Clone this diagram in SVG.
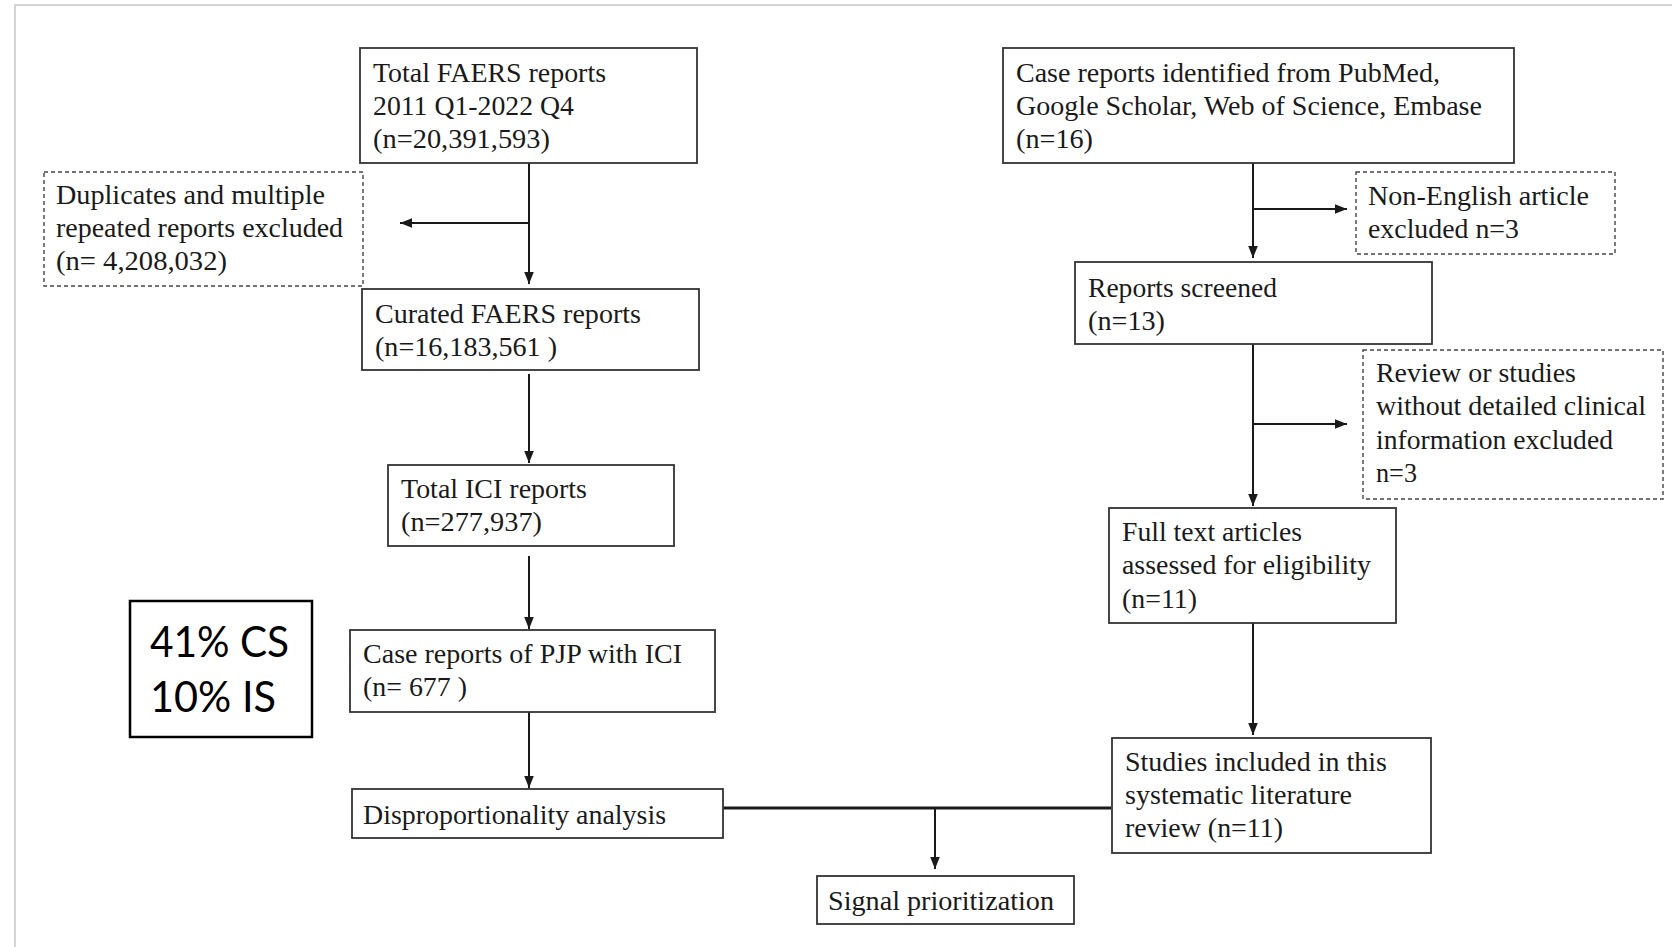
<svg xmlns="http://www.w3.org/2000/svg" width="1672" height="947" viewBox="0 0 1672 947">
<style>
.bx{fill:#fff;stroke:#333;stroke-width:1.8}
.dbx{fill:#fff;stroke:#444;stroke-width:1.4;stroke-dasharray:4 3}
.t{font-family:"Liberation Serif","Times New Roman",serif;font-size:27px;fill:#1a1a1a}
.c{stroke:#1a1a1a;stroke-width:2;fill:none}
.s{font-family:Lato,"Open Sans",sans-serif;font-size:43px;fill:#000}
</style>
<defs>
<marker id="ah" markerUnits="userSpaceOnUse" markerWidth="12" markerHeight="12" viewBox="0 0 10 10" refX="10" refY="5" orient="auto">
<path d="M0,1 L10,5 L0,9 Z" fill="#1a1a1a"/>
</marker>
</defs>
<rect x="0" y="0" width="1672" height="947" fill="#fff"/>
<rect x="15" y="5" width="1700" height="1000" fill="none" stroke="#d4d4d4" stroke-width="2"/>

<g id="connectors">
<line class="c" x1="529" y1="163" x2="529" y2="284" marker-end="url(#ah)"/>
<line class="c" x1="529" y1="223" x2="400" y2="223" marker-end="url(#ah)"/>
<line class="c" x1="529" y1="374" x2="529" y2="463" marker-end="url(#ah)"/>
<line class="c" x1="529" y1="556" x2="529" y2="629" marker-end="url(#ah)"/>
<line class="c" x1="529" y1="712" x2="529" y2="788" marker-end="url(#ah)"/>
<line x1="723" y1="808" x2="1111" y2="808" stroke="#1a1a1a" stroke-width="3"/>
<line class="c" x1="935" y1="808" x2="935" y2="869" marker-end="url(#ah)"/>
<line class="c" x1="1253" y1="163" x2="1253" y2="258" marker-end="url(#ah)"/>
<line class="c" x1="1253" y1="209" x2="1347" y2="209" marker-end="url(#ah)"/>
<line class="c" x1="1253" y1="344" x2="1253" y2="506" marker-end="url(#ah)"/>
<line class="c" x1="1253" y1="424" x2="1347" y2="424" marker-end="url(#ah)"/>
<line class="c" x1="1253" y1="623" x2="1253" y2="735" marker-end="url(#ah)"/>
</g>

<g id="n-faers-total">
<rect class="bx" x="360" y="48" width="337" height="115"/>
<text class="t" x="373" y="82" textLength="233" lengthAdjust="spacingAndGlyphs">Total FAERS reports</text>
<text class="t" x="373" y="115" textLength="201" lengthAdjust="spacingAndGlyphs">2011 Q1-2022 Q4</text>
<text class="t" x="373" y="148" textLength="177" lengthAdjust="spacingAndGlyphs">(n=20,391,593)</text>
</g>

<g id="n-duplicates">
<rect class="dbx" x="44" y="172" width="319" height="114"/>
<text class="t" x="56" y="204" textLength="269" lengthAdjust="spacingAndGlyphs">Duplicates and multiple</text>
<text class="t" x="56" y="237" textLength="287" lengthAdjust="spacingAndGlyphs">repeated reports excluded</text>
<text class="t" x="56" y="270" textLength="171" lengthAdjust="spacingAndGlyphs">(n= 4,208,032)</text>
</g>

<g id="n-curated">
<rect class="bx" x="362" y="289" width="337" height="81"/>
<text class="t" x="375" y="323" textLength="266" lengthAdjust="spacingAndGlyphs">Curated FAERS reports</text>
<text class="t" x="375" y="356" textLength="182" lengthAdjust="spacingAndGlyphs">(n=16,183,561 )</text>
</g>

<g id="n-ici">
<rect class="bx" x="388" y="465" width="286" height="81"/>
<text class="t" x="401" y="498" textLength="186" lengthAdjust="spacingAndGlyphs">Total ICI reports</text>
<text class="t" x="401" y="531" textLength="141" lengthAdjust="spacingAndGlyphs">(n=277,937)</text>
</g>

<g id="n-pjp">
<rect class="bx" x="350" y="630" width="365" height="82"/>
<text class="t" x="363" y="663" textLength="319" lengthAdjust="spacingAndGlyphs">Case reports of PJP with ICI</text>
<text class="t" x="363" y="696" textLength="104" lengthAdjust="spacingAndGlyphs">(n= 677 )</text>
</g>

<g id="n-disprop">
<rect class="bx" x="352" y="789" width="371" height="49"/>
<text class="t" x="363" y="824" textLength="303" lengthAdjust="spacingAndGlyphs">Disproportionality analysis</text>
</g>

<g id="n-signal">
<rect class="bx" x="817" y="876" width="257" height="48"/>
<text class="t" x="828" y="910" textLength="226" lengthAdjust="spacingAndGlyphs">Signal prioritization</text>
</g>

<g id="n-cs-is">
<rect x="130" y="601" width="182" height="136" fill="#fff" stroke="#000" stroke-width="2.5"/>
<text class="s" x="150" y="657" textLength="139" lengthAdjust="spacingAndGlyphs">41% CS</text>
<text class="s" x="150" y="712" textLength="126" lengthAdjust="spacingAndGlyphs">10% IS</text>
</g>

<g id="n-case-identified">
<rect class="bx" x="1003" y="48" width="511" height="115"/>
<text class="t" x="1016" y="82" textLength="424" lengthAdjust="spacingAndGlyphs">Case reports identified from PubMed,</text>
<text class="t" x="1016" y="115" textLength="466" lengthAdjust="spacingAndGlyphs">Google Scholar, Web of Science, Embase</text>
<text class="t" x="1016" y="148" textLength="77" lengthAdjust="spacingAndGlyphs">(n=16)</text>
</g>

<g id="n-non-english">
<rect class="dbx" x="1356" y="172" width="259" height="82"/>
<text class="t" x="1368" y="205" textLength="221" lengthAdjust="spacingAndGlyphs">Non-English article</text>
<text class="t" x="1368" y="238" textLength="151" lengthAdjust="spacingAndGlyphs">excluded n=3</text>
</g>

<g id="n-screened">
<rect class="bx" x="1075" y="262" width="357" height="82"/>
<text class="t" x="1088" y="297" textLength="189" lengthAdjust="spacingAndGlyphs">Reports screened</text>
<text class="t" x="1088" y="330" textLength="77" lengthAdjust="spacingAndGlyphs">(n=13)</text>
</g>

<g id="n-review">
<rect class="dbx" x="1363" y="350" width="300" height="149"/>
<text class="t" x="1376" y="382" textLength="200" lengthAdjust="spacingAndGlyphs">Review or studies</text>
<text class="t" x="1376" y="415" textLength="270" lengthAdjust="spacingAndGlyphs">without detailed clinical</text>
<text class="t" x="1376" y="449" textLength="237" lengthAdjust="spacingAndGlyphs">information excluded</text>
<text class="t" x="1376" y="482" textLength="41" lengthAdjust="spacingAndGlyphs">n=3</text>
</g>

<g id="n-fulltext">
<rect class="bx" x="1109" y="508" width="287" height="115"/>
<text class="t" x="1122" y="541" textLength="180" lengthAdjust="spacingAndGlyphs">Full text articles</text>
<text class="t" x="1122" y="574" textLength="249" lengthAdjust="spacingAndGlyphs">assessed for eligibility</text>
<text class="t" x="1122" y="608" textLength="75" lengthAdjust="spacingAndGlyphs">(n=11)</text>
</g>

<g id="n-studies">
<rect class="bx" x="1112" y="738" width="319" height="115"/>
<text class="t" x="1125" y="771" textLength="262" lengthAdjust="spacingAndGlyphs">Studies included in this</text>
<text class="t" x="1125" y="804" textLength="227" lengthAdjust="spacingAndGlyphs">systematic literature</text>
<text class="t" x="1125" y="837" textLength="158" lengthAdjust="spacingAndGlyphs">review (n=11)</text>
</g>
</svg>
